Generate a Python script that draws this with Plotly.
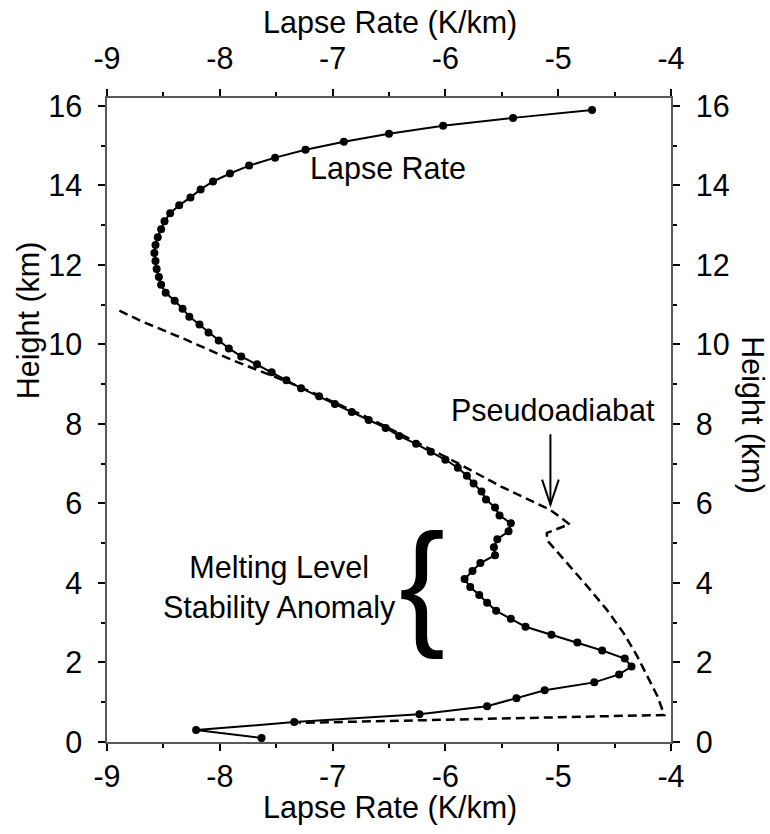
import plotly.graph_objects as go

# ---- data ----
height_km = [0.1, 0.3, 0.5, 0.7, 0.9, 1.1, 1.3, 1.5, 1.7, 1.9,
             2.1, 2.3, 2.5, 2.7, 2.9, 3.1, 3.3, 3.5, 3.7, 3.9,
             4.1, 4.3, 4.5, 4.7, 4.9, 5.1, 5.3, 5.5, 5.7, 5.9,
             6.1, 6.3, 6.5, 6.7, 6.9, 7.1, 7.3, 7.5, 7.7, 7.9,
             8.1, 8.3, 8.5, 8.7, 8.9, 9.1, 9.3, 9.5, 9.7, 9.9,
             10.1, 10.3, 10.5, 10.7, 10.9, 11.1, 11.3, 11.5, 11.7, 11.9,
             12.1, 12.3, 12.5, 12.7, 12.9, 13.1, 13.3, 13.5, 13.7, 13.9,
             14.1, 14.3, 14.5, 14.7, 14.9, 15.1, 15.3, 15.5, 15.7, 15.9]
lapse_rate = [-7.63, -8.21, -7.34, -6.23, -5.63, -5.37, -5.12, -4.68, -4.46, -4.35,
              -4.41, -4.61, -4.83, -5.06, -5.29, -5.42, -5.55, -5.63, -5.70, -5.78,
              -5.83, -5.76, -5.69, -5.56, -5.57, -5.54, -5.44, -5.42, -5.52, -5.56,
              -5.64, -5.68, -5.75, -5.81, -5.89, -6.00, -6.13, -6.26, -6.41, -6.53,
              -6.68, -6.83, -6.98, -7.12, -7.28, -7.41, -7.54, -7.67, -7.81, -7.92,
              -8.01, -8.10, -8.18, -8.27, -8.33, -8.40, -8.48, -8.52, -8.54, -8.56,
              -8.57, -8.58, -8.57, -8.55, -8.52, -8.49, -8.44, -8.36, -8.26, -8.17,
              -8.06, -7.91, -7.74, -7.51, -7.24, -6.90, -6.50, -6.02, -5.40, -4.70]

pseudo_rate = [-8.89, -8.69, -8.30, -7.90, -7.41, -7.12, -6.68, -6.25, -5.90, -5.51,
               -5.22, -5.07, -4.90, -5.10, -5.10, -4.92, -4.74, -4.57, -4.42, -4.30,
               -4.21, -4.12, -4.06, -5.72, -6.58, -7.30]
pseudo_height = [10.85, 10.58, 10.12, 9.62, 9.07, 8.72, 8.15, 7.53, 7.03, 6.43,
                 6.03, 5.84, 5.48, 5.26, 5.08, 4.50, 3.91, 3.33, 2.74, 2.16,
                 1.65, 1.15, 0.68, 0.57, 0.52, 0.48]

x_ticks = [-9, -8, -7, -6, -5, -4]
x_tick_text = ["-9", "-8", "-7", "-6", "-5", "-4"]
y_ticks = [0, 2, 4, 6, 8, 10, 12, 14, 16]
y_tick_text = ["0", "2", "4", "6", "8", "10", "12", "14", "16"]
x_range = [-9, -4]
y_range = [0, 16.2]

FONT = "Liberation Sans, Arial, Helvetica, sans-serif"
FS = 30.5

fig = go.Figure()
fig.add_trace(go.Scatter(x=pseudo_rate, y=pseudo_height, mode="lines",
                         line=dict(color="black", width=2.5, dash="9px,5px"),
                         showlegend=False, hoverinfo="skip"))
fig.add_trace(go.Scatter(x=lapse_rate, y=height_km, mode="lines+markers",
                         line=dict(color="black", width=2),
                         marker=dict(color="black", size=8),
                         showlegend=False))
# invisible trace to anchor the top / right axes
fig.add_trace(go.Scatter(x=lapse_rate, y=height_km, mode="lines", opacity=0,
                         xaxis="x2", yaxis="y2", showlegend=False, hoverinfo="skip"))


def axis(standoff, **kw):
    d = dict(showgrid=False, zeroline=False, showline=True,
             linecolor="#5a5a5a", linewidth=1.5,
             ticks="outside", ticklen=7, tickwidth=1.5, tickcolor="black",
             tickfont=dict(family=FONT, size=FS, color="black"),
             ticklabelstandoff=standoff)
    d.update(kw)
    return d


fig.update_layout(
    width=770, height=834,
    margin=dict(l=107, r=99, t=98, b=92),
    paper_bgcolor="white", plot_bgcolor="white",
    xaxis=axis(0, range=x_range, tickvals=x_ticks, ticktext=x_tick_text, side="bottom",
               minor=dict(dtick=0.5, ticks="outside", ticklen=4, tickcolor="black")),
    xaxis2=axis(8, range=x_range, tickvals=x_ticks, ticktext=x_tick_text, side="top",
                overlaying="x", anchor="y2",
                minor=dict(dtick=0.5, ticks="outside", ticklen=4, tickcolor="black")),
    yaxis=axis(10, range=y_range, tickvals=y_ticks, ticktext=y_tick_text, side="left",
               minor=dict(dtick=1, ticks="outside", ticklen=4, tickcolor="black")),
    yaxis2=axis(10, range=y_range, tickvals=y_ticks, ticktext=y_tick_text, side="right",
                overlaying="y", anchor="x2",
                minor=dict(dtick=1, ticks="outside", ticklen=4, tickcolor="black")),
)

tfont = dict(family=FONT, size=FS, color="black")
ann = [
    dict(text="Lapse Rate (K/km)", xref="paper", yref="paper", x=0.502, y=1.118,
         showarrow=False, font=tfont, xanchor="center", yanchor="middle"),
    dict(text="Lapse Rate (K/km)", xref="paper", yref="paper", x=0.502, y=-0.102,
         showarrow=False, font=tfont, xanchor="center", yanchor="middle"),
    dict(text="Height (km)", xref="paper", yref="paper", x=-0.14, y=0.655,
         showarrow=False, font=tfont, textangle=-90, xanchor="center", yanchor="middle"),
    dict(text="Height (km)", xref="paper", yref="paper", x=1.143, y=0.508,
         showarrow=False, font=tfont, textangle=90, xanchor="center", yanchor="middle"),
    dict(text="Lapse Rate", x=-6.507, y=14.43, showarrow=False, font=tfont,
         xanchor="center", yanchor="middle"),
    dict(text="Pseudoadiabat", x=-5.043, y=8.35, showarrow=False, font=tfont,
         xanchor="center", yanchor="middle"),
    dict(text="Melting Level<br>Stability Anomaly", x=-7.47, y=3.88, showarrow=False,
         font=tfont, xanchor="center", yanchor="middle", align="center"),
    dict(text="{", x=-6.21, y=4.03, showarrow=False,
         font=dict(family=FONT, size=138, color="black"),
         xanchor="center", yanchor="middle"),
    # arrow shaft
    dict(text="", x=-5.069, y=5.97, ax=-5.069, ay=7.78, axref="x", ayref="y",
         showarrow=True, arrowhead=0, arrowwidth=2, arrowcolor="black"),
]
fig.update_layout(annotations=ann)

# arrowhead (open V)
tip_x, tip_y = -5.069, 5.97
fig.add_shape(type="path", xref="x", yref="y",
              path=f"M {tip_x-0.074},{tip_y+0.63} L {tip_x},{tip_y} L {tip_x+0.074},{tip_y+0.63}",
              line=dict(color="black", width=2))

fig.write_html("out.html")
